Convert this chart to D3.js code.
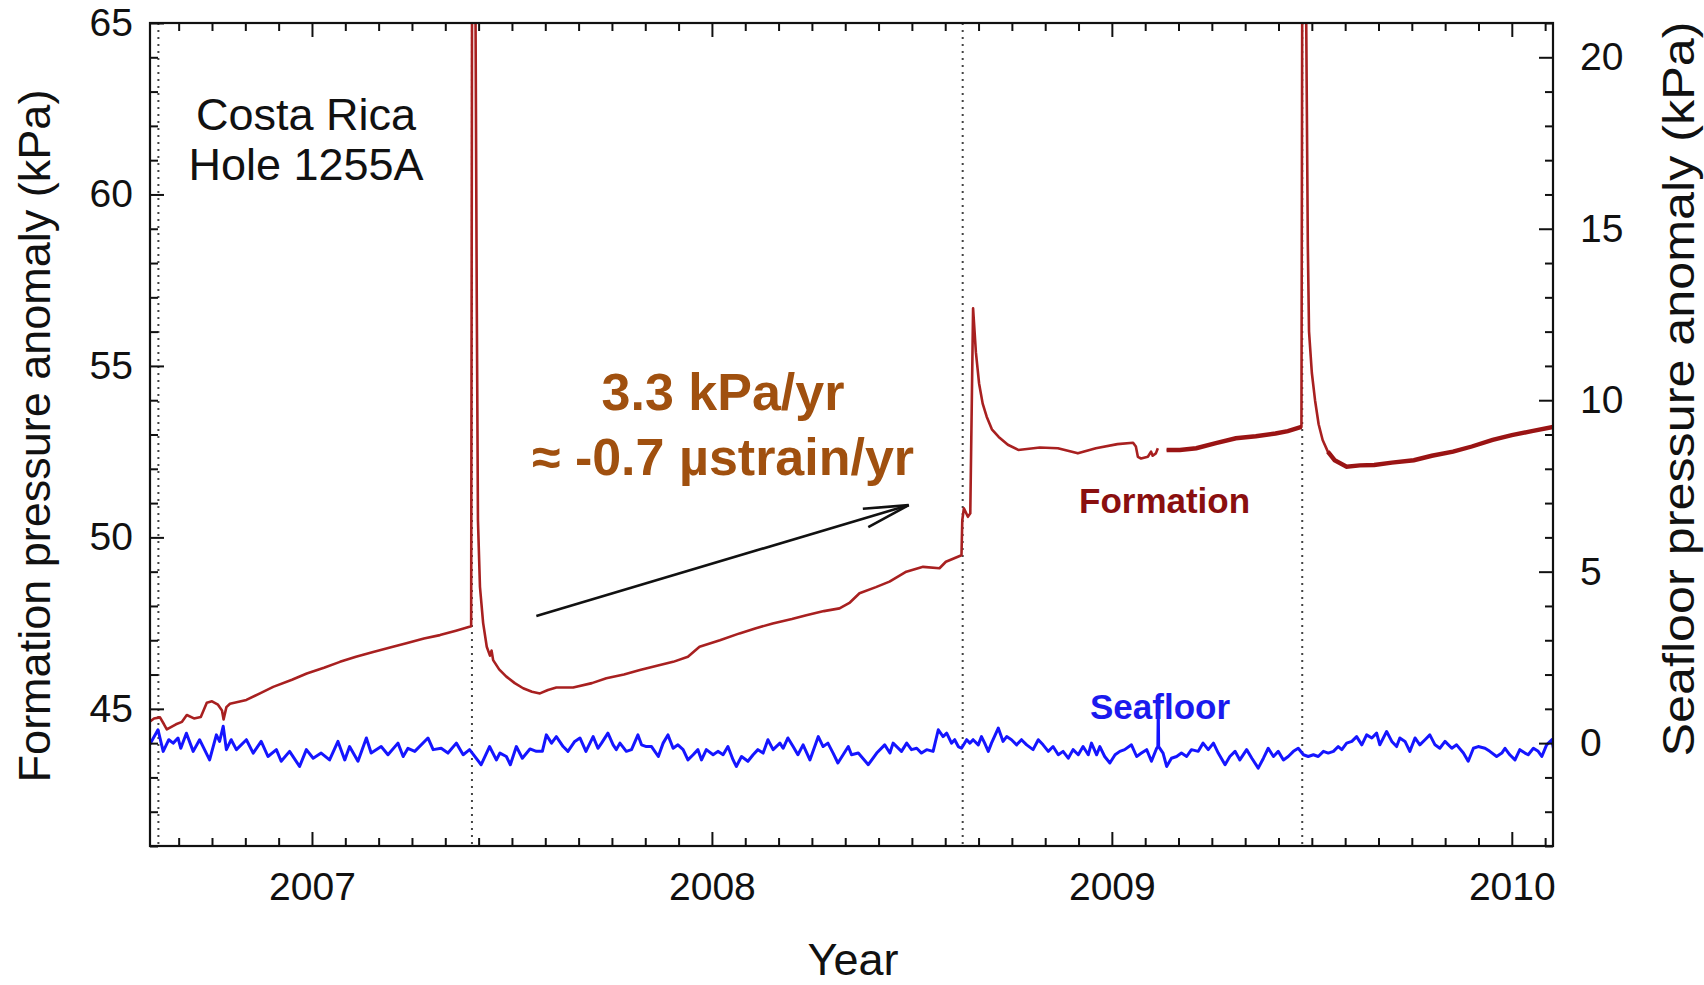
<!DOCTYPE html>
<html>
<head>
<meta charset="utf-8">
<script src="https://cdn.jsdelivr.net/npm/d3@7"></script>
<style>
html, body { margin: 0; padding: 0; background: #fff; }
svg { display: block; font-family: "Liberation Sans", Arial, Helvetica, sans-serif; }
</style>
</head>
<body>
<svg id="chart" width="1704" height="985"></svg>
<script>
// ---------------- DATA ----------------
const xDomain = [2006.595, 2010.103];
const leftDomain = [41, 65];
const rightDomain = [-3, 21];
const yearTicks = [2007, 2008, 2009, 2010];
const leftMajorTicks = [45, 50, 55, 60, 65];
const rightMajorTicks = [0, 5, 10, 15, 20];
const eventYears = [2006.616, 2007.400, 2008.627, 2009.476];

// Formation pressure anomaly (kPa, left axis): [decimal year, value]; NaN = data gap
const formationSeries = [
  [2006.595,44.63],[2006.605,44.72],[2006.620,44.75],[2006.630,44.55],[2006.637,44.40],
  [2006.660,44.55],[2006.675,44.62],[2006.687,44.82],[2006.705,44.72],[2006.722,44.76],
  [2006.737,45.18],[2006.750,45.22],[2006.765,45.12],[2006.775,44.95],[2006.779,44.69],
  [2006.786,45.05],[2006.795,45.15],[2006.836,45.26],[2006.870,45.45],[2006.903,45.64],
  [2006.950,45.85],[2006.987,46.03],[2007.030,46.20],[2007.070,46.37],[2007.110,46.52],
  [2007.153,46.66],[2007.200,46.80],[2007.236,46.91],[2007.280,47.05],[2007.320,47.15],
  [2007.360,47.28],[2007.398,47.41],[2007.401,72.0],[2007.409,65.0],[2007.412,57.0],
  [2007.415,50.5],[2007.420,48.56],[2007.428,47.50],[2007.437,46.81],[2007.445,46.55],
  [2007.449,46.70],[2007.453,46.42],[2007.468,46.15],[2007.486,45.94],[2007.507,45.75],
  [2007.528,45.60],[2007.550,45.50],[2007.570,45.45],[2007.590,45.55],[2007.611,45.62],
  [2007.653,45.62],[2007.700,45.75],[2007.736,45.89],[2007.780,46.00],[2007.820,46.13],
  [2007.860,46.25],[2007.903,46.37],[2007.940,46.52],[2007.969,46.81],[2008.020,47.00],
  [2008.069,47.20],[2008.110,47.35],[2008.152,47.49],[2008.200,47.62],[2008.236,47.73],
  [2008.280,47.85],[2008.319,47.93],[2008.345,48.10],[2008.369,48.37],[2008.410,48.55],
  [2008.444,48.71],[2008.486,49.00],[2008.528,49.14],[2008.569,49.10],[2008.585,49.29],
  [2008.624,49.48],[2008.626,50.50],[2008.630,50.85],[2008.640,50.60],[2008.646,50.70],
  [2008.653,56.68],[2008.660,55.40],[2008.668,54.49],[2008.677,53.90],[2008.687,53.52],
  [2008.700,53.15],[2008.717,52.93],[2008.740,52.70],[2008.766,52.55],[2008.820,52.62],
  [2008.865,52.60],[2008.915,52.45],[2008.960,52.60],[2009.014,52.72],[2009.053,52.76],
  [2009.060,52.65],[2009.065,52.35],[2009.073,52.30],[2009.090,52.35],[2009.098,52.50],
  [2009.102,52.38],[2009.110,52.45],[2009.115,52.60],[2009.125,NaN],[2009.137,52.55],
  [2009.170,52.55],[2009.211,52.60],[2009.260,52.75],[2009.310,52.89],[2009.360,52.95],
  [2009.409,53.03],[2009.440,53.10],[2009.474,53.22],[2009.477,72.0],[2009.486,65.0],
  [2009.490,58.5],[2009.493,56.0],[2009.500,54.8],[2009.508,54.0],[2009.517,53.3],
  [2009.527,52.84],[2009.540,52.50],[2009.557,52.25],[2009.587,52.06],[2009.620,52.10],
  [2009.656,52.11],[2009.700,52.18],[2009.755,52.25],[2009.800,52.38],[2009.853,52.50],
  [2009.900,52.65],[2009.952,52.84],[2010.000,52.98],[2010.050,53.10],[2010.103,53.22]
];

// Seafloor pressure anomaly (kPa, right axis): [decimal year, value]
const seafloorSeries = [
  [2006.594,-0.05],[2006.615,0.39],[2006.628,-0.24],[2006.642,0.10],[2006.653,0.00],[2006.665,0.15],
  [2006.672,-0.15],[2006.686,0.29],[2006.703,-0.24],[2006.719,0.10],[2006.744,-0.49],[2006.761,0.24],
  [2006.769,0.05],[2006.778,0.49],[2006.786,-0.19],[2006.798,0.10],[2006.811,-0.19],[2006.836,0.10],
  [2006.853,-0.29],[2006.873,0.05],[2006.890,-0.39],[2006.911,-0.19],[2006.923,-0.53],[2006.944,-0.24],
  [2006.969,-0.68],[2006.986,-0.19],[2007.003,-0.44],[2007.023,-0.29],[2007.044,-0.49],[2007.065,0.05],
  [2007.082,-0.49],[2007.094,-0.10],[2007.115,-0.53],[2007.136,0.15],[2007.148,-0.29],[2007.173,-0.10],
  [2007.190,-0.34],[2007.215,0.00],[2007.228,-0.39],[2007.240,-0.15],[2007.257,-0.24],[2007.290,0.15],
  [2007.303,-0.19],[2007.323,-0.15],[2007.340,-0.29],[2007.361,0.00],[2007.378,-0.34],[2007.394,-0.19],
  [2007.423,-0.63],[2007.444,-0.10],[2007.461,-0.49],
  [2007.470,-0.29],[2007.486,-0.39],[2007.496,-0.63],[2007.511,-0.10],[2007.526,-0.44],[2007.545,-0.17],
  [2007.561,-0.24],[2007.576,-0.24],[2007.586,0.24],[2007.599,0.00],[2007.611,0.19],[2007.628,-0.10],
  [2007.640,-0.24],[2007.657,0.05],[2007.670,0.15],[2007.685,-0.24],[2007.703,0.19],[2007.715,-0.15],
  [2007.724,0.00],[2007.740,0.29],[2007.753,-0.05],[2007.761,-0.19],[2007.770,0.00],[2007.786,-0.24],
  [2007.799,-0.19],[2007.815,0.24],[2007.824,-0.05],[2007.836,-0.10],[2007.849,-0.10],[2007.866,-0.39],
  [2007.878,0.00],[2007.890,0.24],[2007.903,-0.15],[2007.915,-0.05],[2007.928,-0.19],[2007.940,-0.49],
  [2007.953,-0.34],[2007.965,-0.19],[2007.974,-0.49],[2007.986,-0.19],[2008.003,-0.34],[2008.015,-0.24],
  [2008.028,-0.34],[2008.040,-0.10],[2008.053,-0.49],[2008.061,-0.68],[2008.074,-0.39],[2008.090,-0.53],
  [2008.103,-0.34],[2008.115,-0.19],[2008.128,-0.29],[2008.140,0.10],[2008.153,-0.19],[2008.170,0.00],
  [2008.178,-0.15],[2008.190,0.15],[2008.203,-0.10],[2008.215,-0.34],[2008.228,-0.05],[2008.245,-0.49],
  [2008.266,0.19],[2008.278,-0.10],[2008.290,0.00],[2008.303,-0.29],[2008.315,-0.58],[2008.328,-0.34],
  [2008.341,-0.10],
  [2008.349,-0.34],[2008.366,-0.29],[2008.391,-0.63],[2008.412,-0.29],[2008.432,-0.05],[2008.445,-0.29],
  [2008.453,0.00],[2008.474,-0.24],[2008.487,0.00],[2008.499,-0.19],[2008.512,-0.15],[2008.524,-0.29],
  [2008.537,-0.19],[2008.553,-0.24],[2008.566,0.39],[2008.578,0.19],[2008.587,0.29],[2008.599,0.00],
  [2008.607,0.10],[2008.616,-0.10],[2008.624,-0.15],[2008.637,0.10],[2008.645,0.00],[2008.653,0.10],
  [2008.666,-0.05],[2008.674,0.19],[2008.682,0.00],[2008.691,-0.24],[2008.699,0.00],[2008.716,0.44],
  [2008.728,0.05],[2008.737,0.19],[2008.749,0.10],[2008.762,-0.05],[2008.774,0.10],[2008.787,-0.05],
  [2008.803,-0.19],[2008.816,0.10],[2008.828,-0.05],[2008.841,-0.24],[2008.853,-0.10],[2008.866,-0.34],
  [2008.878,-0.24],[2008.891,-0.44],[2008.903,-0.19],[2008.916,-0.34],[2008.928,-0.10],[2008.941,-0.34],
  [2008.949,0.00],[2008.962,-0.34],[2008.970,-0.10],[2008.982,-0.39],[2008.995,-0.58],[2009.008,-0.34],
  [2009.020,-0.24],[2009.032,-0.19],[2009.049,-0.05],[2009.062,-0.39],[2009.074,-0.29],[2009.087,-0.19],
  [2009.099,-0.53],[2009.112,-0.15],[2009.115,-0.10],[2009.116,1.05],[2009.117,-0.10],[2009.128,-0.29],
  [2009.137,-0.68],[2009.149,-0.44],[2009.162,-0.39],[2009.174,-0.29],[2009.187,-0.39],[2009.199,-0.19],
  [2009.216,-0.24],[2009.228,0.00],
  [2009.241,-0.19],[2009.254,0.00],[2009.266,-0.29],[2009.283,-0.63],[2009.295,-0.39],[2009.308,-0.24],
  [2009.320,-0.49],[2009.337,-0.19],[2009.350,-0.44],[2009.366,-0.73],[2009.379,-0.44],[2009.391,-0.15],
  [2009.404,-0.39],[2009.416,-0.24],[2009.429,-0.49],[2009.441,-0.39],[2009.454,-0.24],[2009.466,-0.15],
  [2009.479,-0.34],[2009.491,-0.39],[2009.504,-0.34],[2009.516,-0.39],[2009.529,-0.24],[2009.541,-0.29],
  [2009.554,-0.24],[2009.566,-0.10],[2009.575,-0.19],[2009.587,0.00],[2009.600,0.05],[2009.612,0.19],
  [2009.625,-0.05],[2009.637,0.24],[2009.650,0.15],[2009.662,0.29],[2009.670,-0.05],[2009.687,0.34],
  [2009.700,0.05],[2009.712,-0.10],[2009.720,0.15],[2009.733,0.05],[2009.745,-0.24],[2009.758,0.15],
  [2009.770,-0.05],[2009.783,0.10],[2009.795,0.24],[2009.808,-0.05],[2009.820,-0.15],[2009.833,0.05],
  [2009.850,-0.15],[2009.862,-0.05],[2009.879,-0.29],[2009.891,-0.53],[2009.904,-0.15],[2009.916,-0.10],
  [2009.933,-0.15],[2009.945,-0.24],[2009.962,-0.39],[2009.975,-0.29],[2009.983,-0.15],[2009.995,-0.34],
  [2010.008,-0.49],[2010.020,-0.19],[2010.033,-0.29],[2010.041,-0.34],[2010.054,-0.15],[2010.066,-0.24],
  [2010.075,-0.39],[2010.087,-0.05],[2010.100,0.10],[2010.104,-0.15]
];

// Trend annotation arrow, in data units (decimal year, formation kPa)
const arrowFrom = [2007.561, 47.71];
const arrowTo = [2008.492, 50.94];

const titleLines = ["Costa Rica", "Hole 1255A"];
const rateLines = ["3.3 kPa/yr", "\u2248 -0.7 \u00B5strain/yr"];

// ---------------- CHART ----------------
const svg = d3.select("#chart");
const L = 150, R = 1553, T = 23, B = 846;

const x = d3.scaleLinear().domain(xDomain).range([L, R]);
const yL = d3.scaleLinear().domain(leftDomain).range([B, T]);
const yR = d3.scaleLinear().domain(rightDomain).range([B, T]);

const monthTicks = [];
for (let yr = 2006; yr <= 2010; yr++) {
  for (let m = 0; m < 12; m++) {
    const t = yr + m / 12;
    if (t >= xDomain[0] && t <= xDomain[1] && m !== 0) monthTicks.push(t);
  }
}
const leftMinor = d3.range(leftDomain[0], leftDomain[1] + 1).filter(v => leftMajorTicks.indexOf(v) < 0);
const rightMinor = d3.range(rightDomain[0], rightDomain[1] + 1).filter(v => rightMajorTicks.indexOf(v) < 0);

svg.append("defs").append("clipPath").attr("id", "plotclip")
  .append("rect").attr("x", L).attr("y", T).attr("width", R - L).attr("height", B - T);

// event dotted lines
svg.append("g").selectAll("line").data(eventYears).join("line")
  .attr("x1", d => x(d)).attr("x2", d => x(d))
  .attr("y1", T).attr("y2", B)
  .attr("stroke", "#444").attr("stroke-width", 2)
  .attr("stroke-dasharray", "2,5");

const plot = svg.append("g").attr("clip-path", "url(#plotclip)");

// seafloor
const seaLine = d3.line().x(d => x(d[0])).y(d => yR(d[1]));
plot.append("path").datum(seafloorSeries)
  .attr("d", seaLine).attr("fill", "none")
  .attr("stroke", "#1515ff").attr("stroke-width", 3).attr("stroke-linejoin", "round");

// formation
const formLine = d3.line().defined(d => !isNaN(d[1])).x(d => x(d[0])).y(d => yL(d[1]));
plot.append("path").datum(formationSeries)
  .attr("d", formLine).attr("fill", "none")
  .attr("stroke", "#a82020").attr("stroke-width", 2.6).attr("stroke-linejoin", "round");
const noisy = d => !isNaN(d[1]) && ((d[0] >= 2009.137 && d[0] <= 2009.474) || d[0] >= 2009.54);
plot.append("path").datum(formationSeries)
  .attr("d", d3.line().defined(noisy).x(d => x(d[0])).y(d => yL(d[1])))
  .attr("fill", "none").attr("stroke", "#9a1414").attr("stroke-width", 4.4);

// axes
function styleAxis(g) {
  g.select(".domain").remove();
  g.selectAll(".tick line").attr("stroke", "#111").attr("stroke-width", 2);
  g.selectAll(".tick text").attr("fill", "#111").style("font-size", "39px");
}
svg.append("g").attr("transform", `translate(0,${B})`)
  .call(d3.axisBottom(x).tickValues(monthTicks).tickSize(-8).tickFormat("")).call(styleAxis);
svg.append("g").attr("transform", `translate(0,${B})`)
  .call(d3.axisBottom(x).tickValues(yearTicks).tickSize(-14).tickPadding(26).tickFormat(d3.format("d"))).call(styleAxis);
svg.append("g").attr("transform", `translate(0,${T})`)
  .call(d3.axisTop(x).tickValues(monthTicks).tickSize(-8).tickFormat("")).call(styleAxis);
svg.append("g").attr("transform", `translate(0,${T})`)
  .call(d3.axisTop(x).tickValues(yearTicks).tickSize(-14).tickFormat("")).call(styleAxis);

svg.append("g").attr("transform", `translate(${L},0)`)
  .call(d3.axisLeft(yL).tickValues(leftMinor).tickSize(-8).tickFormat("")).call(styleAxis);
svg.append("g").attr("transform", `translate(${L},0)`)
  .call(d3.axisLeft(yL).tickValues(leftMajorTicks).tickSize(-14).tickPadding(17).tickFormat(d3.format("d"))).call(styleAxis);
svg.append("g").attr("transform", `translate(${R},0)`)
  .call(d3.axisRight(yR).tickValues(rightMinor).tickSize(-8).tickFormat("")).call(styleAxis);
svg.append("g").attr("transform", `translate(${R},0)`)
  .call(d3.axisRight(yR).tickValues(rightMajorTicks).tickSize(-14).tickPadding(27).tickFormat(d3.format("d"))).call(styleAxis);

// frame
svg.append("rect").attr("x", L).attr("y", T).attr("width", R - L).attr("height", B - T)
  .attr("fill", "none").attr("stroke", "#111").attr("stroke-width", 2.2);

// axis titles
svg.append("text").attr("x", 853).attr("y", 975).attr("text-anchor", "middle")
  .style("font-size", "45px").attr("fill", "#111").text("Year");
svg.append("text").attr("transform", "translate(50,436) rotate(-90)").attr("text-anchor", "middle")
  .style("font-size", "45px").attr("fill", "#111").text("Formation pressure anomaly (kPa)");
svg.append("text").attr("transform", "translate(1694,389) rotate(-90)").attr("text-anchor", "middle")
  .attr("textLength", 735).attr("lengthAdjust", "spacingAndGlyphs")
  .style("font-size", "45px").attr("fill", "#111").text("Seafloor pressure anomaly (kPa)");

// site title
svg.append("g").selectAll("text").data(titleLines).join("text")
  .attr("x", 306).attr("y", (d, i) => 130 + i * 50).attr("text-anchor", "middle")
  .style("font-size", "45px").attr("fill", "#111").text(d => d);

// rate annotation
svg.append("g").selectAll("text").data(rateLines).join("text")
  .attr("x", 723).attr("y", (d, i) => 410 + i * 65).attr("text-anchor", "middle")
  .style("font-size", "52px").style("font-weight", "bold").attr("fill", "#a0500f").text(d => d);

// series labels
svg.append("text").attr("x", 1079).attr("y", 513).style("font-size", "35px").style("font-weight", "bold")
  .attr("fill", "#8a0f0f").text("Formation");
svg.append("text").attr("x", 1090).attr("y", 719).style("font-size", "35px").style("font-weight", "bold")
  .attr("fill", "#1a1aee").text("Seafloor");

// arrow
const ax0 = x(arrowFrom[0]), ay0 = yL(arrowFrom[1]);
const ax1 = x(arrowTo[0]), ay1 = yL(arrowTo[1]);
const ang = Math.atan2(ay1 - ay0, ax1 - ax0);
const headLen = 46, headAng = 12 * Math.PI / 180;
const arrowG = svg.append("g").attr("stroke", "#111").attr("stroke-width", 2.6).attr("fill", "none");
arrowG.append("line").attr("x1", ax0).attr("y1", ay0).attr("x2", ax1).attr("y2", ay1);
arrowG.append("path")
  .attr("d", `M${ax1 - headLen * Math.cos(ang - headAng)},${ay1 - headLen * Math.sin(ang - headAng)}` +
             `L${ax1},${ay1}` +
             `L${ax1 - headLen * Math.cos(ang + headAng)},${ay1 - headLen * Math.sin(ang + headAng)}`)
  .attr("stroke-linejoin", "miter");
</script>
</body>
</html>
